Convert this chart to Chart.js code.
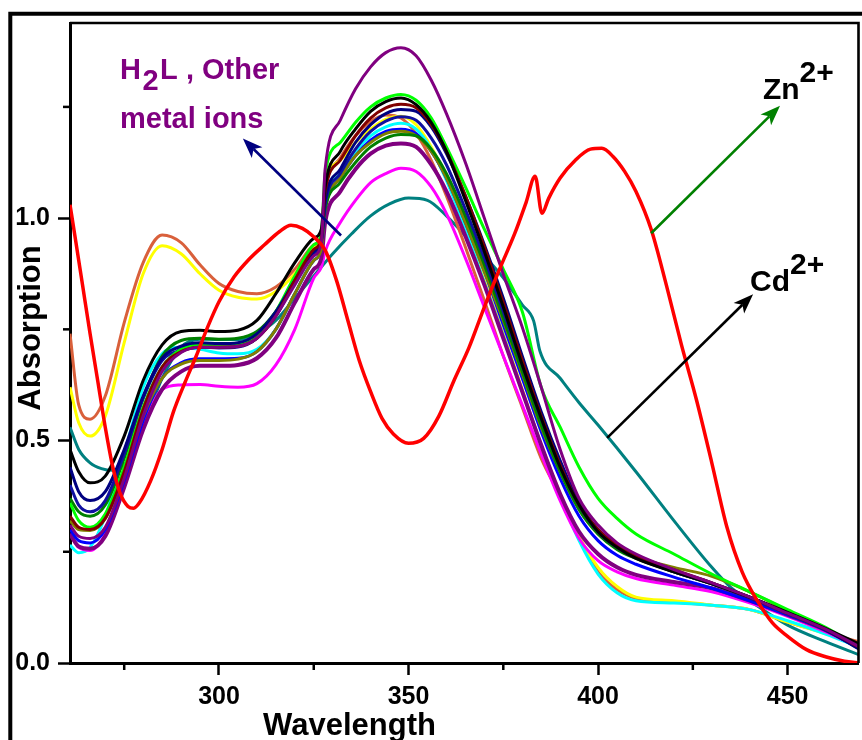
<!DOCTYPE html>
<html><head><meta charset="utf-8">
<script src="https://cdn.jsdelivr.net/npm/chart.js@4.4.1/dist/chart.umd.min.js"></script>
<style>html,body{margin:0;padding:0;background:#fff;}canvas{display:block;}</style>
</head><body>
<canvas id="c" width="862" height="740"></canvas>
<script>
// ---- data ----
const wavelengths = [260.7,263,266,270,275,280,285,290,295,300,305,310,315,320,325,327,328,332,336,340,344,348,352,356,360,365,370,375,380,385,390,395,400,405,410,420,430,440,450,460,469];
const absBlack   = [0.48,0.43,0.405,0.42,0.51,0.635,0.715,0.745,0.748,0.745,0.748,0.77,0.83,0.90,0.955,0.975,1.07,1.15,1.20,1.24,1.262,1.27,1.255,1.215,1.15,1.04,0.925,0.80,0.67,0.55,0.44,0.355,0.295,0.26,0.235,0.205,0.178,0.148,0.114,0.078,0.042];
const absLime    = [0.36,0.32,0.305,0.335,0.44,0.575,0.665,0.705,0.715,0.712,0.715,0.735,0.79,0.87,0.94,0.965,1.10,1.17,1.215,1.25,1.27,1.278,1.265,1.225,1.16,1.07,0.975,0.885,0.79,0.62,0.53,0.44,0.37,0.325,0.29,0.245,0.2,0.16,0.12,0.08,0.035];
const absNavy    = [0.44,0.385,0.365,0.385,0.48,0.60,0.685,0.712,0.72,0.718,0.72,0.74,0.79,0.86,0.925,0.95,1.04,1.11,1.17,1.21,1.235,1.244,1.24,1.205,1.145,1.05,0.94,0.82,0.69,0.565,0.455,0.36,0.30,0.265,0.24,0.208,0.18,0.148,0.112,0.075,0.03];
const absRoyal   = [0.40,0.355,0.34,0.365,0.47,0.595,0.68,0.703,0.71,0.708,0.71,0.73,0.78,0.855,0.92,0.945,1.03,1.10,1.155,1.195,1.218,1.228,1.22,1.18,1.12,1.02,0.91,0.79,0.67,0.55,0.445,0.355,0.295,0.26,0.238,0.205,0.178,0.146,0.11,0.074,0.032];
const absMaroon  = [0.33,0.305,0.30,0.325,0.43,0.57,0.665,0.70,0.71,0.71,0.712,0.73,0.78,0.86,0.93,0.955,1.06,1.13,1.185,1.225,1.248,1.256,1.248,1.21,1.15,1.05,0.935,0.81,0.68,0.555,0.445,0.355,0.30,0.265,0.242,0.21,0.18,0.148,0.112,0.076,0.035];
const absGreen   = [0.37,0.34,0.33,0.355,0.46,0.595,0.69,0.725,0.73,0.728,0.73,0.745,0.79,0.86,0.925,0.95,1.02,1.08,1.125,1.16,1.18,1.188,1.185,1.155,1.10,1.005,0.895,0.775,0.655,0.535,0.43,0.345,0.29,0.255,0.235,0.205,0.178,0.147,0.112,0.075,0.035];
const absBlue    = [0.30,0.275,0.27,0.30,0.41,0.545,0.64,0.675,0.684,0.684,0.685,0.70,0.75,0.83,0.905,0.93,1.02,1.09,1.14,1.175,1.195,1.20,1.19,1.15,1.09,0.99,0.88,0.76,0.64,0.52,0.415,0.33,0.275,0.242,0.222,0.193,0.168,0.14,0.108,0.074,0.035];
const absCyan    = [0.265,0.248,0.26,0.33,0.47,0.62,0.695,0.71,0.705,0.697,0.695,0.705,0.75,0.83,0.905,0.93,1.03,1.10,1.15,1.185,1.205,1.213,1.20,1.155,1.085,0.975,0.855,0.735,0.61,0.49,0.375,0.275,0.20,0.158,0.14,0.135,0.13,0.12,0.095,0.065,0.035];
const absYellow  = [0.62,0.54,0.51,0.555,0.72,0.875,0.938,0.92,0.875,0.838,0.822,0.818,0.835,0.875,0.935,0.96,1.07,1.13,1.17,1.20,1.222,1.229,1.21,1.16,1.09,0.98,0.86,0.74,0.615,0.49,0.38,0.285,0.215,0.172,0.148,0.14,0.13,0.12,0.092,0.066,0.042];
const absCoral   = [0.74,0.58,0.548,0.60,0.765,0.90,0.962,0.945,0.895,0.853,0.835,0.83,0.845,0.885,0.94,0.962,1.06,1.135,1.185,1.217,1.232,1.225,1.19,1.13,1.05,0.935,0.815,0.69,0.575,0.46,0.375,0.28,0.205,0.165,0.145,0.137,0.13,0.12,0.092,0.068,0.047];
const absMagenta = [0.29,0.26,0.253,0.29,0.41,0.53,0.615,0.625,0.626,0.622,0.62,0.628,0.67,0.75,0.865,0.89,0.925,0.99,1.04,1.08,1.10,1.112,1.105,1.07,1.01,0.91,0.80,0.69,0.58,0.47,0.365,0.28,0.23,0.205,0.19,0.175,0.16,0.135,0.105,0.07,0.035];
const absPurple  = [0.29,0.262,0.257,0.285,0.395,0.525,0.615,0.655,0.668,0.668,0.67,0.685,0.73,0.81,0.885,0.91,0.99,1.06,1.11,1.145,1.163,1.168,1.16,1.12,1.06,0.96,0.85,0.73,0.61,0.49,0.38,0.295,0.245,0.215,0.198,0.182,0.168,0.14,0.108,0.074,0.035];
const absOlive   = [0.32,0.30,0.298,0.325,0.425,0.555,0.64,0.672,0.68,0.68,0.683,0.70,0.75,0.83,0.905,0.93,1.02,1.09,1.14,1.17,1.19,1.195,1.185,1.15,1.09,0.99,0.88,0.77,0.65,0.53,0.43,0.345,0.29,0.258,0.238,0.215,0.195,0.16,0.118,0.078,0.035];
const absTallPurple = [0.31,0.285,0.28,0.305,0.415,0.555,0.655,0.698,0.71,0.71,0.712,0.73,0.78,0.85,0.915,0.945,1.11,1.22,1.29,1.34,1.372,1.383,1.365,1.31,1.235,1.125,1.0,0.874,0.755,0.62,0.48,0.37,0.31,0.27,0.245,0.21,0.18,0.148,0.112,0.076,0.036];

const cdWavelengths = [260.7,263,266,269,272,275,280,285,290,295,300,305,310,315,320,325,330,335,340,345,350,355,360,365,370,375,380,383,384.7,390,395,400,410,420,430,435,440,450,460,469];
const absCd = [0.53,0.48,0.45,0.437,0.433,0.445,0.53,0.64,0.71,0.728,0.727,0.727,0.74,0.77,0.82,0.87,0.92,0.965,1.005,1.032,1.045,1.04,1.005,0.96,0.915,0.866,0.805,0.769,0.70,0.64,0.585,0.535,0.43,0.32,0.215,0.17,0.14,0.085,0.048,0.018];

const znWavelengths = [260.7,262,264,266,268,270,272,274,276,277.5,279,282,285,288,291,294,297,300,304,308,312,316,319,322,325,328,331,334,337,340,343,346,350,354,358,362,366,370,374,378,381,383.4,385.2,387,390,394,398,401,404,407,410,414,418,422,426,430,434,438,442,446,450,455,460,465,469];
const absZn = [1.03,0.96,0.85,0.74,0.635,0.53,0.44,0.38,0.352,0.348,0.36,0.41,0.48,0.565,0.63,0.69,0.755,0.812,0.868,0.908,0.94,0.97,0.984,0.977,0.958,0.928,0.86,0.77,0.68,0.61,0.55,0.515,0.494,0.505,0.555,0.635,0.71,0.80,0.885,0.965,1.035,1.094,1.011,1.045,1.09,1.13,1.155,1.157,1.138,1.105,1.06,0.975,0.85,0.715,0.59,0.45,0.305,0.205,0.14,0.09,0.06,0.03,0.014,0.004,0.0];

const xTickValues = [300,350,400,450];
const yTickValues = [0.0,0.5,1.0];
const xMinorTicks = [275,325,375,425];
const yMinorTicks = [0.25,0.75,1.25];

// ---- build datasets ----
const zip = (xs, ys) => xs.map((v,i)=>({x:v,y:ys[i]}));
const groupSeries = [
  ['Zn2+', znWavelengths, absZn, '#FF0000', 3.5],
  ['H2L-1', wavelengths, absTallPurple, '#800080', 3],
  ['H2L-2', wavelengths, absBlack, '#000000', 3],
  ['H2L-3', wavelengths, absMaroon, '#800000', 3],
  ['H2L-4', wavelengths, absNavy, '#000080', 3],
  ['H2L-5', wavelengths, absLime, '#00FF00', 3],
  ['H2L-6', wavelengths, absRoyal, '#1010A0', 3],
  ['H2L-7', wavelengths, absGreen, '#008000', 3],
  ['H2L-8', wavelengths, absOlive, '#808000', 3],
  ['H2L-9', wavelengths, absBlue, '#0000FF', 3],
  ['H2L-10', wavelengths, absPurple, '#800080', 4],
  ['H2L-11', wavelengths, absMagenta, '#FF00FF', 3],
  ['H2L-12', wavelengths, absCyan, '#00FFFF', 3],
  ['H2L-13', wavelengths, absYellow, '#FFFF00', 3],
  ['H2L-14', wavelengths, absCoral, '#D9603B', 3],
  ['Cd2+', cdWavelengths, absCd, '#008080', 3]
];
const datasets = groupSeries.map(([label, xs, ys, color, w]) => ({
  label, data: zip(xs, ys), borderColor: color, borderWidth: w,
  pointRadius: 0, fill: false, cubicInterpolationMode: 'monotone'
}));

const FONT = "'Liberation Sans', Arial, Helvetica, sans-serif";

// annotation layout (data coordinates)
const arrows = [
  {from:[332.2,0.961], to:[306.3,1.179], color:'#000080'},
  {from:[414.0,0.966], to:[448.0,1.2525], color:'#008000'},
  {from:[402.4,0.506], to:[440.9,0.829], color:'#000000'}
];
const labels = [
  {at:[273.9,1.313], color:'#800080', size:29, parts:[{t:'H'},{t:'2',dy:11,gap:1.5},{t:'L , Other',gap:1.5}]},
  {at:[273.9,1.203], color:'#800080', size:29, parts:[{t:'metal ions'}]},
  {at:[443.5,1.268], color:'#000000', size:30, parts:[{t:'Zn'},{t:'2+',dy:-17}]},
  {at:[440.1,0.836], color:'#000000', size:30, parts:[{t:'Cd'},{t:'2+',dy:-17}]}
];

function drawArrow(ctx, x1, y1, x2, y2, color) {
  const ang = Math.atan2(y2-y1, x2-x1);
  const hl = 20, hw = 15, notch = 15;
  const c = Math.cos(ang), s = Math.sin(ang);
  const bx = x2 - hl*c, by = y2 - hl*s;
  const nx = x2 - notch*c, ny = y2 - notch*s;
  ctx.strokeStyle = color; ctx.lineWidth = 2.6; ctx.lineCap='butt';
  ctx.beginPath(); ctx.moveTo(x1,y1); ctx.lineTo(nx,ny); ctx.stroke();
  ctx.fillStyle = color;
  ctx.beginPath(); ctx.moveTo(x2,y2);
  ctx.lineTo(bx + hw/2*s, by - hw/2*c);
  ctx.lineTo(nx, ny);
  ctx.lineTo(bx - hw/2*s, by + hw/2*c);
  ctx.closePath(); ctx.fill();
}

const decor = {
  id: 'decor',
  beforeDraw(chart) {
    const ctx = chart.ctx; ctx.save(); ctx.fillStyle = '#fff'; ctx.fillRect(0,0,chart.width,chart.height); ctx.restore();
  },
  afterDraw(chart) {
    const {ctx, chartArea: a, scales: {x, y}} = chart;
    ctx.save();
    // plot frame (top & right)
    ctx.strokeStyle = '#000'; ctx.lineWidth = 2.6;
    ctx.beginPath(); ctx.moveTo(a.left, a.top); ctx.lineTo(a.right, a.top); ctx.lineTo(a.right, a.bottom); ctx.stroke();
    // outer figure border
    ctx.lineWidth = 4;
    ctx.beginPath(); ctx.moveTo(10.3, 760); ctx.lineTo(10.3, 13.7); ctx.lineTo(900, 13.7); ctx.stroke();
    // minor ticks
    ctx.lineWidth = 2.5;
    yMinorTicks.forEach(v => { const py = y.getPixelForValue(v); ctx.beginPath(); ctx.moveTo(a.left-7, py); ctx.lineTo(a.left, py); ctx.stroke(); });
    xMinorTicks.forEach(v => { const px = x.getPixelForValue(v); ctx.beginPath(); ctx.moveTo(px, a.bottom); ctx.lineTo(px, a.bottom+7); ctx.stroke(); });
    // arrows
    arrows.forEach(ar => drawArrow(ctx, x.getPixelForValue(ar.from[0]), y.getPixelForValue(ar.from[1]), x.getPixelForValue(ar.to[0]), y.getPixelForValue(ar.to[1]), ar.color));
    // labels
    labels.forEach(lb => {
      ctx.font = `bold ${lb.size}px ${FONT}`; ctx.fillStyle = lb.color; ctx.textAlign='left'; ctx.textBaseline='alphabetic';
      let px = x.getPixelForValue(lb.at[0]); const py = y.getPixelForValue(lb.at[1]);
      lb.parts.forEach(p => { px += (p.gap||0); ctx.fillText(p.t, px, py + (p.dy||0)); px += ctx.measureText(p.t).width; });
    });
    // axis titles
    ctx.fillStyle = '#000'; ctx.font = `bold 31px ${FONT}`;
    ctx.textAlign = 'center'; ctx.textBaseline = 'alphabetic';
    ctx.fillText('Wavelength', 349.5, 735);
    ctx.translate(40, 328); ctx.rotate(-Math.PI/2);
    ctx.fillText('Absorption', 0, 0);
    ctx.restore();
  }
};

new Chart(document.getElementById('c'), {
  type: 'line',
  data: { datasets },
  options: {
    responsive: false, animation: false, devicePixelRatio: 1,
    layout: { padding: { left: 0, top: 21, right: 3.5, bottom: 0 } },
    plugins: { legend: { display: false }, tooltip: { enabled: false } },
    scales: {
      x: {
        type: 'linear', min: 260.7, max: 468.7,
        afterBuildTicks: ax => { ax.ticks = xTickValues.map(v => ({value: v})); },
        afterFit: ax => { ax.height = 77; },
        ticks: { color: '#000', padding: 7, font: { family: FONT, size: 25, weight: 'bold' }, callback: v => String(v), maxRotation: 0 },
        grid: { display: true, drawOnChartArea: false, drawTicks: true, tickLength: 12, tickWidth: 2.5, tickColor: '#000' },
        border: { display: true, color: '#000', width: 3 },
        title: { display: false }
      },
      y: {
        type: 'linear', min: 0, max: 1.4386,
        afterBuildTicks: ax => { ax.ticks = yTickValues.map(v => ({value: v})); },
        afterFit: ax => { ax.width = 70; },
        ticks: { color: '#000', padding: 8, font: { family: FONT, size: 25, weight: 'bold' }, callback: v => Number(v).toFixed(1) },
        grid: { display: true, drawOnChartArea: false, drawTicks: true, tickLength: 12, tickWidth: 2.5, tickColor: '#000' },
        border: { display: true, color: '#000', width: 3 },
        title: { display: false }
      }
    }
  },
  plugins: [decor]
});
</script>
</body></html>
